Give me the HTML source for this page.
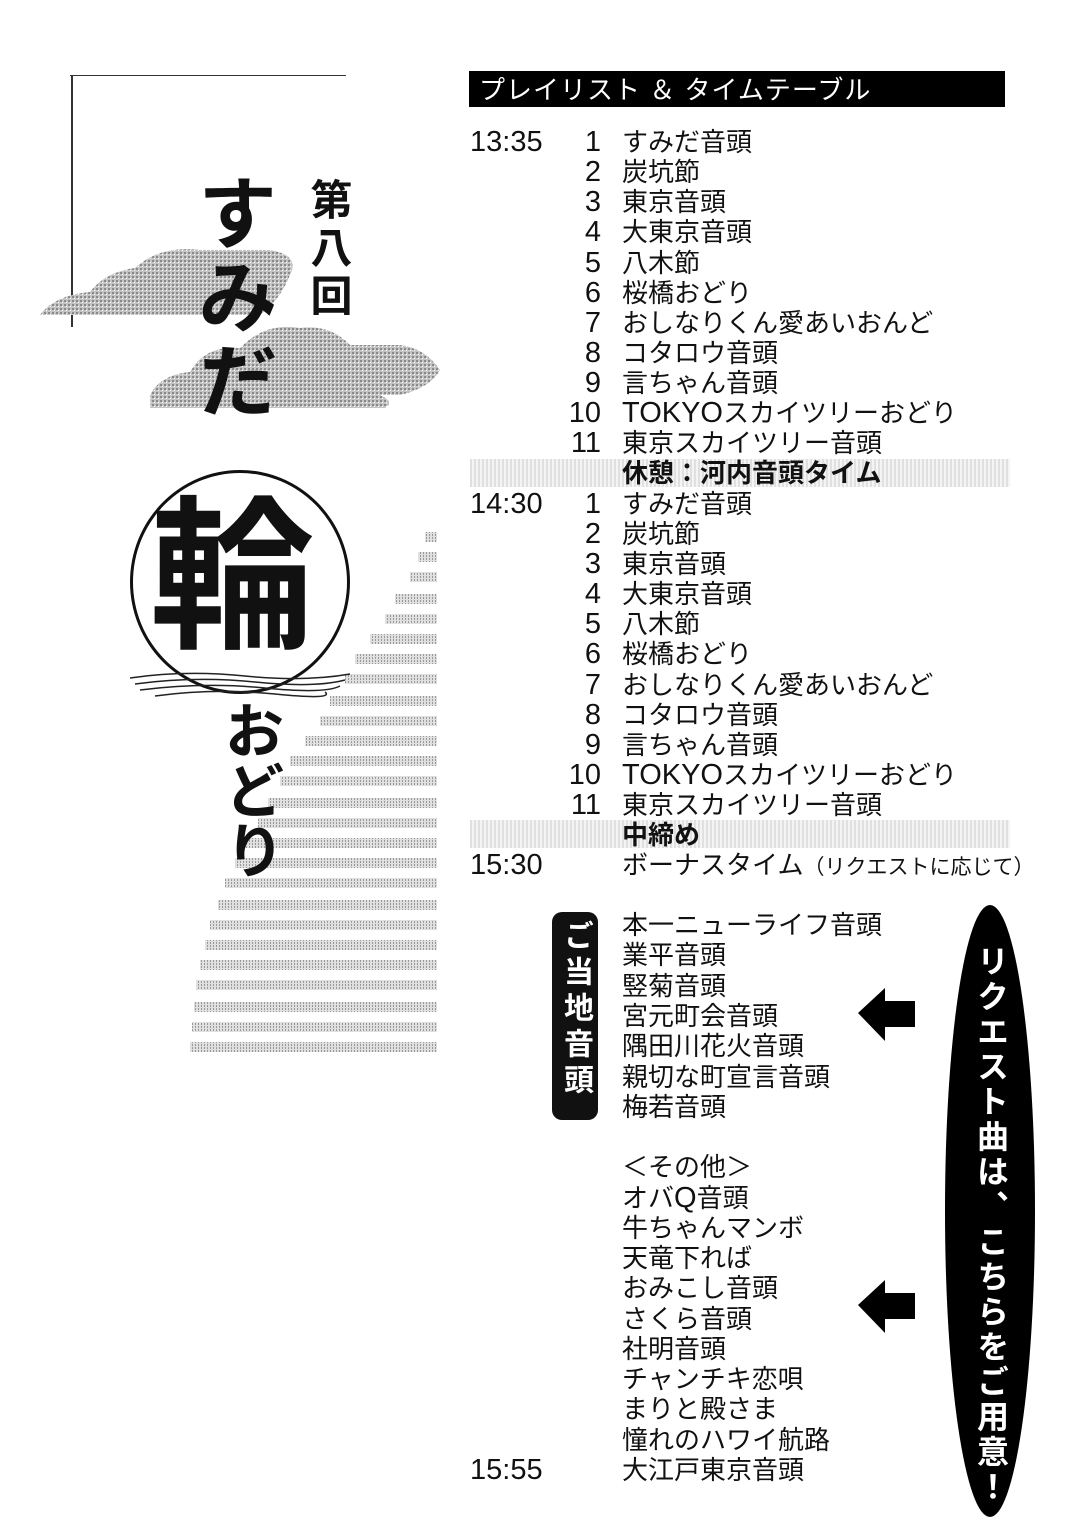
<!DOCTYPE html>
<html><head><meta charset="utf-8">
<style>
*{margin:0;padding:0}
body{width:1088px;height:1536px;background:#fff;position:relative;overflow:hidden;font-family:"Liberation Sans","Noto Sans CJK JP",sans-serif;color:#111}
.a{position:absolute;white-space:nowrap}
.r{font-size:26px;line-height:30px;height:30px}
.t{left:470px;font-size:29px}
.n{width:131px;text-align:right;left:470px;font-size:29px}
.s{left:622px}
.L{font-size:29px}
.band{position:absolute;left:470px;width:540px;height:28px;background:repeating-linear-gradient(90deg,#ddd 0 2px,#f3f3f3 2px 4px),#e5e5e5;opacity:.9}
.v{writing-mode:vertical-rl;text-orientation:upright}
</style></head><body>
<div class="a" style="left:70px;top:75px;width:276px;height:1px;background:#333"></div>
<div class="a" style="left:71px;top:75px;width:2px;height:252px;background:#333"></div>
<svg class="a" style="left:0;top:0" width="460" height="1100">
<defs><pattern id="p" width="4" height="4" patternUnits="userSpaceOnUse"><rect width="4" height="4" fill="#c4c4c4"/><rect width="2" height="2" fill="#8a8a8a"/><rect x="2" y="2" width="1" height="1" fill="#fff"/></pattern>
<pattern id="q2" width="3" height="3" patternUnits="userSpaceOnUse"><rect width="3" height="3" fill="#e0e0e0"/><rect width="1" height="2" fill="#999"/></pattern></defs>
<path d="M40 315 Q55 295 90 292 Q105 272 135 268 Q160 245 200 250 L270 250 Q300 255 290 275 Q280 300 260 315 Z" fill="url(#p)"/>
<path d="M150 395 Q160 375 190 372 Q205 345 240 348 Q265 322 300 328 Q330 324 350 345 L400 345 Q425 348 440 370 Q430 388 400 395 L380 395 Q395 402 385 408 L150 408 Z" fill="url(#p)"/>
<g fill="url(#q2)">
<rect x="425" y="532" width="12" height="10"/><rect x="418" y="552" width="19" height="10"/><rect x="410" y="572" width="27" height="10"/><rect x="395" y="594" width="42" height="10"/><rect x="385" y="614" width="52" height="10"/><rect x="370" y="634" width="67" height="10"/><rect x="355" y="654" width="82" height="10"/><rect x="345" y="674" width="92" height="10"/><rect x="330" y="696" width="107" height="10"/><rect x="320" y="716" width="117" height="10"/><rect x="305" y="736" width="132" height="10"/><rect x="290" y="756" width="147" height="10"/><rect x="280" y="776" width="157" height="10"/><rect x="268" y="798" width="169" height="10"/><rect x="258" y="818" width="179" height="10"/><rect x="245" y="838" width="192" height="10"/><rect x="235" y="858" width="202" height="10"/><rect x="225" y="878" width="212" height="10"/><rect x="218" y="900" width="219" height="10"/><rect x="210" y="920" width="227" height="10"/><rect x="205" y="940" width="232" height="10"/><rect x="200" y="960" width="237" height="10"/><rect x="196" y="980" width="241" height="10"/><rect x="194" y="1002" width="243" height="10"/><rect x="192" y="1022" width="245" height="10"/><rect x="190" y="1042" width="247" height="10"/>
</g></svg>
<div class="a v" style="left:190px;top:172px;font-size:80px;line-height:82px;font-weight:bold;letter-spacing:4px">すみだ</div>
<div class="a v" style="left:305px;top:178px;font-size:42px;line-height:46px;font-weight:bold;letter-spacing:6px">第八回</div>
<div class="a" style="left:130px;top:470px;width:214px;height:218px;border:3px solid #111;border-radius:50%;background:#fff"></div>
<svg class="a" style="left:125px;top:660px" width="230" height="45"><g stroke="#222" stroke-width="1.5" fill="none"><path d="M5 18 Q60 10 120 16 T225 14"/><path d="M10 24 Q70 16 130 22 T220 20"/><path d="M15 30 Q80 22 140 28 T215 26"/><path d="M30 36 Q90 28 150 34 T200 32"/></g></svg>
<div class="a" style="left:150px;top:478px;font-size:165px;line-height:200px;font-weight:bold">輪</div>
<div class="a v" style="left:218px;top:700px;font-size:60px;line-height:62px;font-weight:bold">おどり</div>
<div class="a" style="left:469px;top:71px;width:536px;height:36px;background:#000;color:#fff;font-size:26px;line-height:38px;padding-left:10px;box-sizing:border-box;letter-spacing:1px">プレイリスト ＆ タイムテーブル</div>
<div class="band" style="top:459px"></div>
<div class="band" style="top:820px"></div>
<div class="a r t" style="top:127px">13:35</div>
<div class="a r n" style="top:127px">1</div><div class="a r s" style="top:127px">すみだ音頭</div>
<div class="a r n" style="top:157px">2</div><div class="a r s" style="top:157px">炭坑節</div>
<div class="a r n" style="top:187px">3</div><div class="a r s" style="top:187px">東京音頭</div>
<div class="a r n" style="top:217px">4</div><div class="a r s" style="top:217px">大東京音頭</div>
<div class="a r n" style="top:248px">5</div><div class="a r s" style="top:248px">八木節</div>
<div class="a r n" style="top:278px">6</div><div class="a r s" style="top:278px">桜橋おどり</div>
<div class="a r n" style="top:308px">7</div><div class="a r s" style="top:308px">おしなりくん愛あいおんど</div>
<div class="a r n" style="top:338px">8</div><div class="a r s" style="top:338px">コタロウ音頭</div>
<div class="a r n" style="top:368px">9</div><div class="a r s" style="top:368px">言ちゃん音頭</div>
<div class="a r n" style="top:398px">10</div><div class="a r s" style="top:398px"><span class="L">TOKYO</span>スカイツリーおどり</div>
<div class="a r n" style="top:428px">11</div><div class="a r s" style="top:428px">東京スカイツリー音頭</div>
<div class="a r s" style="top:458px;font-weight:bold">休憩：河内音頭タイム</div>
<div class="a r t" style="top:489px">14:30</div>
<div class="a r n" style="top:489px">1</div><div class="a r s" style="top:489px">すみだ音頭</div>
<div class="a r n" style="top:519px">2</div><div class="a r s" style="top:519px">炭坑節</div>
<div class="a r n" style="top:549px">3</div><div class="a r s" style="top:549px">東京音頭</div>
<div class="a r n" style="top:579px">4</div><div class="a r s" style="top:579px">大東京音頭</div>
<div class="a r n" style="top:609px">5</div><div class="a r s" style="top:609px">八木節</div>
<div class="a r n" style="top:639px">6</div><div class="a r s" style="top:639px">桜橋おどり</div>
<div class="a r n" style="top:670px">7</div><div class="a r s" style="top:670px">おしなりくん愛あいおんど</div>
<div class="a r n" style="top:700px">8</div><div class="a r s" style="top:700px">コタロウ音頭</div>
<div class="a r n" style="top:730px">9</div><div class="a r s" style="top:730px">言ちゃん音頭</div>
<div class="a r n" style="top:760px">10</div><div class="a r s" style="top:760px"><span class="L">TOKYO</span>スカイツリーおどり</div>
<div class="a r n" style="top:790px">11</div><div class="a r s" style="top:790px">東京スカイツリー音頭</div>
<div class="a r s" style="top:820px;font-weight:bold">中締め</div>
<div class="a r t" style="top:850px">15:30</div>
<div class="a r s" style="top:850px">ボーナスタイム<span style="font-size:21px">（リクエストに応じて）</span></div>
<div class="a" style="left:552px;top:912px;width:46px;height:208px;background:#111;border-radius:10px"></div>
<div class="a v" style="left:558px;top:920px;color:#fff;font-size:30px;line-height:34px;font-weight:bold;letter-spacing:6px">ご当地音頭</div>
<div class="a r s" style="top:910px">本一ニューライフ音頭</div>
<div class="a r s" style="top:940px">業平音頭</div>
<div class="a r s" style="top:971px">竪菊音頭</div>
<div class="a r s" style="top:1001px">宮元町会音頭</div>
<div class="a r s" style="top:1031px">隅田川花火音頭</div>
<div class="a r s" style="top:1062px">親切な町宣言音頭</div>
<div class="a r s" style="top:1092px">梅若音頭</div>
<div class="a r s" style="top:1152px">＜その他＞</div>
<div class="a r s" style="top:1183px">オバ<span class="L">Q</span>音頭</div>
<div class="a r s" style="top:1213px">牛ちゃんマンボ</div>
<div class="a r s" style="top:1243px">天竜下れば</div>
<div class="a r s" style="top:1273px">おみこし音頭</div>
<div class="a r s" style="top:1304px">さくら音頭</div>
<div class="a r s" style="top:1334px">社明音頭</div>
<div class="a r s" style="top:1364px">チャンチキ恋唄</div>
<div class="a r s" style="top:1394px">まりと殿さま</div>
<div class="a r s" style="top:1425px">憧れのハワイ航路</div>
<div class="a r t" style="top:1455px">15:55</div>
<div class="a r s" style="top:1455px">大江戸東京音頭</div>
<svg class="a" style="left:855px;top:985px" width="65" height="60"><path d="M3 28 L30 3 L30 16 L60 16 L60 42 L30 42 L30 56Z" fill="#000"/></svg>
<svg class="a" style="left:855px;top:1277px" width="65" height="60"><path d="M3 28 L30 3 L30 16 L60 16 L60 42 L30 42 L30 56Z" fill="#000"/></svg>
<div class="a" style="left:945px;top:905px;width:90px;height:612px;background:#000;border-radius:50%"></div>
<div class="a v" style="left:973px;top:945px;color:#fff;font-size:32px;line-height:36px;font-weight:bold;letter-spacing:3px">リクエスト曲は、こちらをご用意！</div>
</body></html>
